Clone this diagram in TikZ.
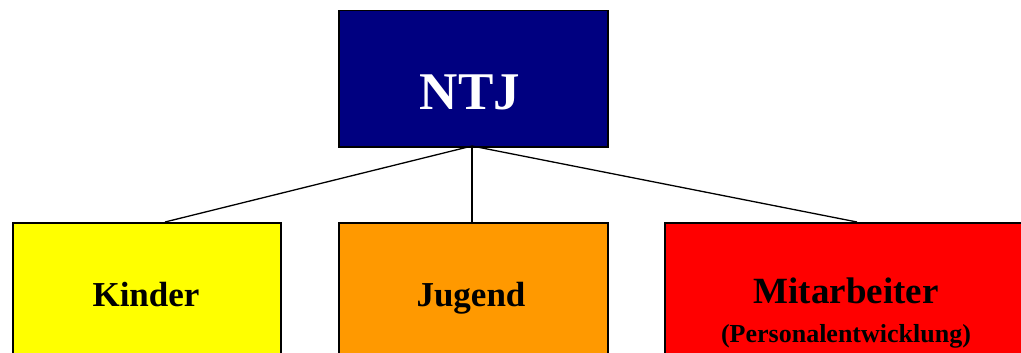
\documentclass[tikz,border=0pt]{standalone}
\usepackage{fontspec}
\setmainfont{Liberation Serif}
\definecolor{navyc}{RGB}{0,0,128}
\definecolor{yellowc}{RGB}{255,255,0}
\definecolor{orangec}{RGB}{255,153,0}
\definecolor{redc}{RGB}{255,0,0}
\tikzset{
  box/.style={draw=black, line width=1.5pt, rectangle, inner sep=0pt, anchor=north west},
  lbl/.style={anchor=base, inner sep=0pt, font=\bfseries},
  conn/.style={draw=black, line width=1.3pt},
}
\begin{document}
\begin{tikzpicture}[x=1pt,y=-1pt]
\clip (0,0) rectangle (1021,353);
\useasboundingbox (0,0) rectangle (1021,353);
\node[box, fill=navyc, minimum width=269pt, minimum height=136pt] (ntj) at (338,10) {};
\node[box, fill=yellowc, minimum width=268pt, minimum height=150pt] (kinder) at (12,222) {};
\node[box, fill=orangec, minimum width=269pt, minimum height=150pt] (jugend) at (338,222) {};
\node[box, fill=redc, minimum width=386pt, minimum height=150pt] (mitarb) at (664,222) {};
\coordinate (kin) at (165,222);
\coordinate (jin) at (472,222);
\coordinate (min) at (857,222);
\coordinate (nout) at (472,146);
\draw[conn] (nout) -- (kin);
\draw[conn] (nout) -- (jin);
\draw[conn] (nout) -- (min);
\node[lbl, text=white, font=\bfseries\fontsize{53}{60}\selectfont] (tntj) at (470,110) {NTJ};
\node[lbl, font=\bfseries\fontsize{35}{40}\selectfont] (tkinder) at (146,306) {Kinder};
\node[lbl, font=\bfseries\fontsize{35}{40}\selectfont] (tjugend) at (471,306) {Jugend};
\node[lbl, font=\bfseries\fontsize{37}{42}\selectfont] (tmitarb) at (846,303) {Mitarbeiter};
\node[lbl, font=\bfseries\fontsize{26}{30}\selectfont] (tpers) at (846,342) {(Personalentwicklung)};
\end{tikzpicture}
\end{document}
